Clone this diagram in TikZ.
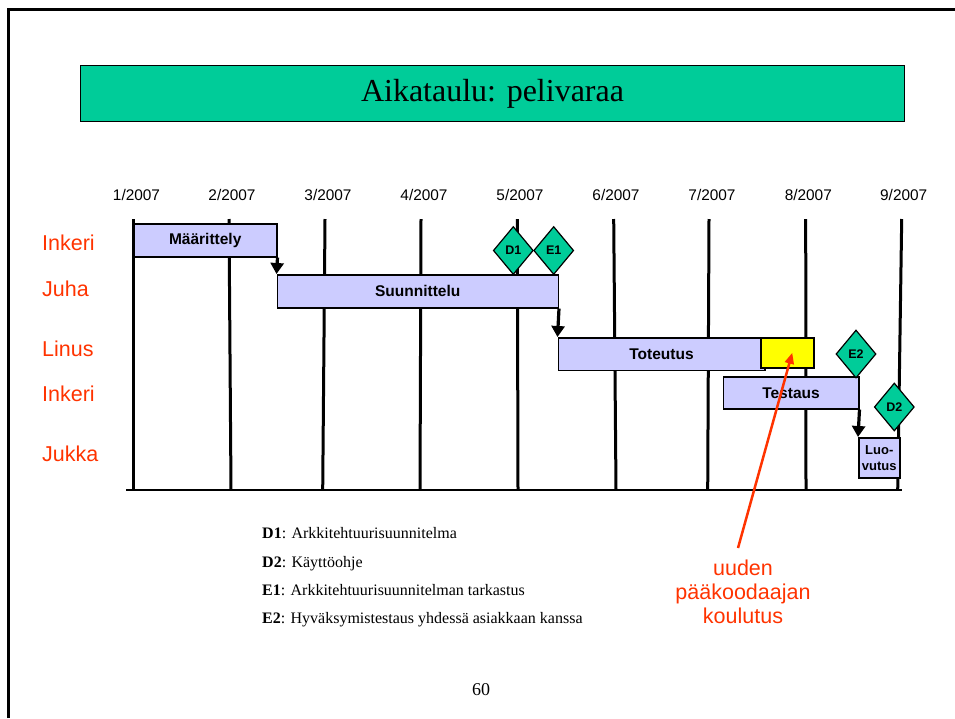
\documentclass[tikz,border=0pt]{standalone}
\usepackage{fontspec}
\setmainfont{Liberation Serif}
\newfontfamily\arial{Liberation Sans}
\usetikzlibrary{arrows.meta,shapes.geometric}

\definecolor{mint}{HTML}{00CC99}
\definecolor{lavbar}{HTML}{CCCCFF}
\definecolor{slackyellow}{HTML}{FFFF00}
\definecolor{alertred}{HTML}{FF3300}

\tikzset{
  pagerule/.style={line width=3pt},
  gridline/.style={line width=3pt},
  baseline rule/.style={line width=2pt},
  bar/.style={draw=black, line width=1.5pt, fill=lavbar, anchor=north west,
    inner sep=0pt, font=\arial\bfseries\fontsize{15.5}{18}\selectfont},
  milestone/.style={diamond, draw=black, line width=1.2pt, fill=mint,
    minimum width=40pt, minimum height=48pt, inner sep=0pt,
    font=\arial\bfseries\fontsize{12.5}{14}\selectfont},
  person/.style={anchor=west, inner sep=0pt, text=alertred,
    font=\arial\fontsize{21.5}{24}\selectfont},
  month/.style={inner sep=0pt, font=\arial\fontsize{15.4}{18}\selectfont},
  handoff/.style={line width=3.2pt, -{Triangle[width=13pt,length=11pt]}},
  callout/.style={draw=alertred, line width=2.5pt,
    -{Triangle[width=9pt,length=11pt]}},
  legend/.style={anchor=base west, inner sep=0pt,
    font=\fontsize{16}{19}\selectfont},
}

\begin{document}
\begin{tikzpicture}[x=1pt, y=-1pt]
\useasboundingbox (0,0) rectangle (955,718);

% page frame
\draw[pagerule] (8,718) -- (8,9) -- (955,9);

% title bar
\node[draw=black, line width=1pt, fill=mint, anchor=north west,
      minimum width=824pt, minimum height=56pt, inner sep=0pt,
      font=\fontsize{32}{36}\selectfont] (title) at (80,65)
      {Aikataulu: pelivaraa};

% month labels and grid lines
\foreach \i/\lx/\tx/\bx in {1/136.5/133/133, 2/232/229/231, 3/328/325/322.7,
    4/424/421/420, 5/520/517.3/518, 6/616/613.7/616, 7/712/709/707.7,
    8/808.3/805.7/806, 9/903.7/901.7/897.7} {
  \node[month] (m\i) at (\lx,195) {\i/2007};
  \draw[gridline] (\tx,219) -- (\bx,490);
}
\draw[baseline rule] (126,490) -- (902,490);

% people
\node[person] (p1) at (42,243) {Inkeri};
\node[person] (p2) at (42,288.5) {Juha};
\node[person] (p3) at (42,348.5) {Linus};
\node[person] (p4) at (42,393.5) {Inkeri};
\node[person] (p5) at (42,454) {Jukka};

% phases
\node[bar, minimum width=143pt, minimum height=33pt] (maar) at (133,223) {Määrittely};
\node[bar, minimum width=281pt, minimum height=33pt] (suun) at (276.5,274) {Suunnittelu};
\node[bar, minimum width=206.5pt, minimum height=32.5pt] (tot) at (557.5,337) {Toteutus};
\node[bar, fill=slackyellow, minimum width=53pt, minimum height=30pt] (slack) at (760,337) {};
\node[bar, minimum width=135.5pt, minimum height=32pt] (test) at (722.5,376) {Testaus};
\node[bar, minimum width=41pt, minimum height=40pt, align=center,
      font=\arial\bfseries\fontsize{13}{16}\selectfont] (luo) at (858,437) {Luo-\\vutus};

% hand-offs between phases
\draw[handoff] (maar.south east) -- (suun.north west);
\draw[handoff] (suun.south east) -- (tot.north west);
\draw[handoff] (test.south east) -- (luo.north west);

% milestones
\node[milestone] (d1) at (513.3,250.5) {D1};
\node[milestone] (e1) at (553.7,250.5) {E1};
\node[milestone] (e2) at (856,354) {E2};
\node[milestone] (d2) at (894.3,407) {D2};

% note on the slack period
\node[anchor=north, inner sep=0pt, align=center, text=alertred,
      font=\arial\fontsize{21.5}{24}\selectfont] (note) at (743,560)
      {uuden\\pääkoodaajan\\koulutus};
\coordinate (tail) at (738,548);
\draw[callout] (tail) -- ([xshift=5pt]slack.center);

% legend
\node[legend] (l1) at (262,538) {\textbf{D1}: Arkkitehtuurisuunnitelma};
\node[legend] (l2) at (262,567) {\textbf{D2}: Käyttöohje};
\node[legend] (l3) at (262,595) {\textbf{E1}: Arkkitehtuurisuunnitelman tarkastus};
\node[legend] (l4) at (262,623) {\textbf{E2}: Hyväksymistestaus yhdessä asiakkaan kanssa};

% page number
\node[anchor=base, inner sep=0pt, font=\fontsize{18}{20}\selectfont] (pg) at (481,695) {60};
\end{tikzpicture}
\end{document}
